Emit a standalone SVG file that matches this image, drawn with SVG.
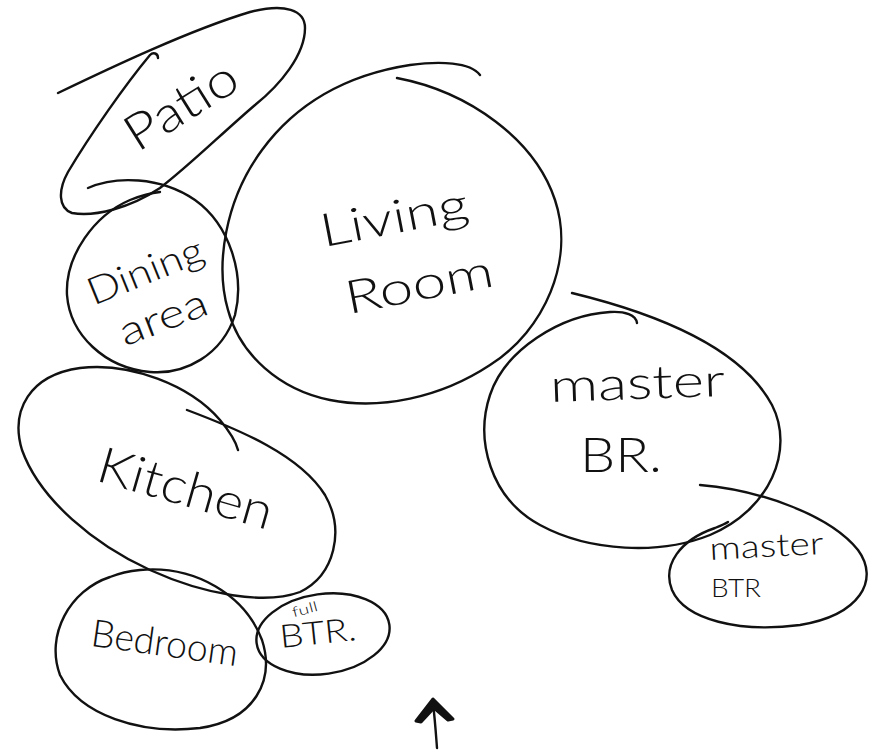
<svg xmlns="http://www.w3.org/2000/svg" width="879" height="752" viewBox="0 0 879 752">
<style>
.b{fill:none;stroke:#111;stroke-width:2.4;stroke-linecap:round;stroke-linejoin:round}
.t{font-family:"Lato","Open Sans","Liberation Sans",sans-serif;font-weight:300;fill:#111;text-anchor:middle}
</style>
<rect width="879" height="752" fill="#fff"/>
<g id="node-patio">
<path class="b" d="M58,93 C110,68 190,30 250,12 C285,3 305,10 305,28 C305,55 280,85 255,105 C220,135 190,165 160,188 C130,208 95,217 72,213 C58,208 58,190 68,172 C90,135 125,85 150,55 C153,52 158,53 158,58"/>
<text class="t" font-size="50" textLength="124" lengthAdjust="spacingAndGlyphs" transform="translate(190,120) rotate(-32)">Patio</text>
</g>
<g id="node-living-room">
<path class="b" d="M397,78 C470,92 535,140 555,200 C575,260 545,330 490,365 C440,398 380,410 330,400 C280,390 240,355 228,310 C215,265 225,200 262,150 C295,105 345,75 410,65 C440,61 470,62 480,75"/>
<text class="t" font-size="46" textLength="150" lengthAdjust="spacingAndGlyphs" transform="translate(397,233) rotate(-11)">Living</text>
<text class="t" font-size="46" textLength="150" lengthAdjust="spacingAndGlyphs" transform="translate(422,300) rotate(-11)">Room</text>
</g>
<g id="node-dining-area">
<path class="b" d="M88,188 C115,176 160,176 195,200 C230,225 245,275 235,315 C222,355 185,375 150,372 C105,368 70,335 67,295 C65,255 95,215 130,200 C140,196 150,193 160,192"/>
<text class="t" font-size="38" textLength="122" lengthAdjust="spacingAndGlyphs" transform="translate(150,283) rotate(-22)">Dining</text>
<text class="t" font-size="40" textLength="92" lengthAdjust="spacingAndGlyphs" transform="translate(168,330) rotate(-21)">area</text>
</g>
<g id="node-kitchen">
<path class="b" d="M187,410 C240,430 300,455 325,495 C345,530 335,575 300,592 C265,605 205,595 150,570 C95,545 40,500 22,450 C10,410 30,375 80,368 C130,362 190,385 220,420 C230,432 236,442 238,450"/>
<text class="t" font-size="50" textLength="180" lengthAdjust="spacingAndGlyphs" transform="translate(181,505) rotate(16)">Kitchen</text>
</g>
<g id="node-bedroom">
<path class="b" d="M140,570 C195,565 245,595 262,640 C275,680 255,720 200,728 C140,735 80,715 60,675 C45,635 70,590 110,577 C120,573 130,571 140,570 Z"/>
<text class="t" font-size="38" textLength="148" lengthAdjust="spacingAndGlyphs" transform="translate(163,656) rotate(8)">Bedroom</text>
</g>
<g id="node-full-btr">
<ellipse class="b" cx="323" cy="634" rx="67" ry="40" transform="rotate(-8 323 634)"/>
<text class="t" font-size="14" textLength="26" lengthAdjust="spacingAndGlyphs" transform="translate(306,614) rotate(-15)">full</text>
<text class="t" font-size="32" textLength="77" lengthAdjust="spacingAndGlyphs" transform="translate(319,644) rotate(-6)">BTR.</text>
</g>
<g id="node-master-br">
<path class="b" d="M572,293 C650,312 740,345 772,405 C795,450 770,510 710,535 C660,555 590,552 540,525 C490,498 475,440 490,395 C505,350 560,315 610,312 C625,311 636,315 637,323"/>
<text class="t" font-size="46" textLength="175" lengthAdjust="spacingAndGlyphs" transform="translate(638,399) rotate(-2)">master</text>
<text class="t" font-size="48" textLength="82" lengthAdjust="spacingAndGlyphs" transform="translate(621,472)">BR.</text>
</g>
<g id="node-master-btr">
<path class="b" d="M700,485 C760,490 830,515 858,550 C880,580 860,615 800,625 C740,633 685,620 672,590 C662,565 680,540 715,528 C720,526 725,524 728,522"/>
<text class="t" font-size="32" textLength="114" lengthAdjust="spacingAndGlyphs" transform="translate(767,557) rotate(-3)">master</text>
<text class="t" font-size="26" textLength="50" lengthAdjust="spacingAndGlyphs" transform="translate(736,597)">BTR</text>
</g>
<g id="connectors">
<path class="b" stroke-width="4" d="M433,703 C435,720 436,735 437,748"/>
<path d="M416,721 L433,699 L453,719 L448,720 L434,708 L421,722 Z" fill="#111" stroke="#111" stroke-width="3" stroke-linejoin="round"/>
</g>
</svg>
